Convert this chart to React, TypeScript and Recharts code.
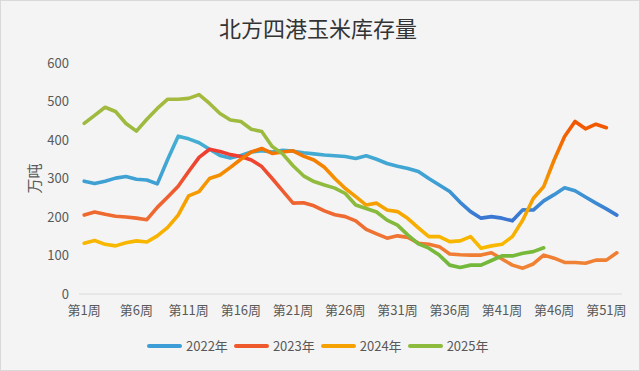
import React from "react";
import { LineChart, Line, XAxis, YAxis, Label } from "recharts";

const weeks: string[] = [
  "第1周","第2周","第3周","第4周","第5周","第6周","第7周","第8周","第9周","第10周",
  "第11周","第12周","第13周","第14周","第15周","第16周","第17周","第18周","第19周","第20周",
  "第21周","第22周","第23周","第24周","第25周","第26周","第27周","第28周","第29周","第30周",
  "第31周","第32周","第33周","第34周","第35周","第36周","第37周","第38周","第39周","第40周",
  "第41周","第42周","第43周","第44周","第45周","第46周","第47周","第48周","第49周","第50周",
  "第51周","第52周",
];

const y2022: (number | null)[] = [
  293, 287, 293, 301, 305, 298, 296, 286, 350, 410,
  403, 393, 376, 360, 353, 360, 369, 372, 369, 373,
  371, 367, 364, 361, 359, 357, 352, 359, 350, 339,
  332, 326, 318, 300, 283, 266, 238, 214, 197, 201,
  197, 190, 219, 218, 242, 258, 276, 268, 252, 236,
  221, 205,
];

const y2023: (number | null)[] = [
  205, 213, 207, 202, 200, 197, 193, 225, 252, 280,
  318, 355, 376, 370, 362, 357, 348, 331, 300, 268,
  236, 237, 229, 216, 206, 201, 190, 168, 156, 145,
  151, 147, 132, 129, 123, 104, 102, 101, 101, 107,
  91, 75, 67, 78, 101, 93, 82, 82, 80, 88,
  88, 107,
];

const y2024: (number | null)[] = [
  132, 139, 129, 125, 133, 138, 135, 151, 173, 205,
  255, 266, 300, 309, 329, 350, 369, 378, 365, 369,
  372, 358, 348, 329, 300, 274, 253, 231, 236, 218,
  214, 196, 172, 149, 149, 136, 138, 149, 119, 125,
  129, 149, 192, 248, 279, 348, 409, 448, 429, 441,
  432, null,
];

const y2025: (number | null)[] = [
  443, 464, 485, 474, 443, 423, 454, 482, 506, 506,
  508, 518, 495, 469, 452, 448, 428, 422, 383, 364,
  333, 307, 292, 283, 275, 261, 231, 222, 213, 192,
  179, 153, 130, 119, 101, 75, 69, 75, 75, 87,
  99, 99, 106, 110, 120, null, null, null, null, null,
  null, null,
];

const yTicks: number[] = [0, 100, 200, 300, 400, 500, 600];

const seriesNames: string[] = ["2022年", "2023年", "2024年", "2025年"];
const seriesKeys: string[] = ["y2022", "y2023", "y2024", "y2025"];
const seriesLegendColors: string[] = ["#3d9dd6", "#ee5a2c", "#f5a200", "#8cbb3e"];
const seriesGradients: string[] = ["g2022", "g2023", "g2024", "g2025"];

const data = weeks.map((w, i) => ({
  week: w,
  y2022: y2022[i],
  y2023: y2023[i],
  y2024: y2024[i],
  y2025: y2025[i],
}));

const FONT = '"Noto Sans CJK SC", "Noto Sans", sans-serif';

export default function App() {
  return (
    <div
      style={{
        position: "absolute",
        left: 0,
        top: 0,
        width: 640,
        height: 371,
        background: "#f4f4f4",
        fontFamily: FONT,
        overflow: "hidden",
      }}
    >
      <div
        style={{
          position: "absolute",
          left: 0,
          top: 0,
          width: 640,
          height: 371,
          boxSizing: "border-box",
          border: "1px solid #d9d9d9",
          pointerEvents: "none",
          zIndex: 2,
        }}
      />
      <div
        style={{
          position: "absolute",
          left: 0,
          top: 13,
          width: 636,
          textAlign: "center",
          fontSize: 22,
          color: "#333333",
          lineHeight: "28px",
          fontFamily: FONT,
        }}
      >
        北方四港玉米库存量
      </div>
      <div style={{ position: "absolute", left: 0, top: 0 }}>
        <LineChart
          width={640}
          height={371}
          data={data}
          margin={{ top: 63, right: 18, bottom: 47, left: 0 }}
        >
          <defs>
            <linearGradient id="g2022" x1="0" y1="0" x2="0" y2="1">
              <stop offset="0%" stopColor="#45b0d2" />
              <stop offset="55%" stopColor="#3fa0d4" />
              <stop offset="100%" stopColor="#3a74d2" />
            </linearGradient>
            <linearGradient id="g2023" x1="0" y1="0" x2="0" y2="1">
              <stop offset="0%" stopColor="#ef3a30" />
              <stop offset="45%" stopColor="#ee6430" />
              <stop offset="100%" stopColor="#f08434" />
            </linearGradient>
            <linearGradient id="g2024" x1="0" y1="0" x2="0" y2="1">
              <stop offset="0%" stopColor="#f25400" />
              <stop offset="45%" stopColor="#f59200" />
              <stop offset="100%" stopColor="#f8ba00" />
            </linearGradient>
            <linearGradient id="g2025" x1="0" y1="0" x2="0" y2="1">
              <stop offset="0%" stopColor="#a4ba3f" />
              <stop offset="55%" stopColor="#8fbb3e" />
              <stop offset="100%" stopColor="#72b83a" />
            </linearGradient>
          </defs>
          <XAxis
            dataKey="week"
            interval={4}
            tickLine={false}
            axisLine={{ stroke: "#d9d9d9", strokeWidth: 1.2 }}
            padding={{ left: 5.2, right: 5.2 }}
            tick={{ fill: "#595959", fontSize: 13, fontFamily: FONT }}
            tickMargin={6}
            height={30}
          />
          <YAxis
            domain={[0, 600]}
            ticks={yTicks}
            width={79}
            tickLine={false}
            axisLine={false}
            tick={{ fill: "#595959", fontSize: 13, fontFamily: FONT }}
            tickMargin={4}
          >
            <Label
              value="万吨"
              angle={-90}
              position="insideLeft"
              offset={35}
              style={{ fill: "#595959", fontSize: 15, fontFamily: FONT, textAnchor: "middle" }}
            />
          </YAxis>
          {seriesKeys.map((k, i) => (
            <Line
              key={k}
              type="linear"
              dataKey={k}
              name={seriesNames[i]}
              stroke={`url(#${seriesGradients[i]})`}
              strokeWidth={3.6}
              strokeLinejoin="round"
              strokeLinecap="round"
              dot={false}
              activeDot={false}
              isAnimationActive={false}
            />
          ))}
        </LineChart>
      </div>
      <div
        style={{
          position: "absolute",
          left: 147,
          top: 337,
          display: "flex",
          alignItems: "center",
          fontSize: 13,
          color: "#595959",
          fontFamily: FONT,
          lineHeight: "18px",
        }}
      >
        {seriesNames.map((n, i) => (
          <div key={n} style={{ display: "flex", alignItems: "center", marginRight: 6 }}>
            <div
              style={{
                width: 35,
                height: 4,
                borderRadius: 2,
                background: seriesLegendColors[i],
                marginRight: 4,
              }}
            />
            <span>{n}</span>
          </div>
        ))}
      </div>
    </div>
  );
}
